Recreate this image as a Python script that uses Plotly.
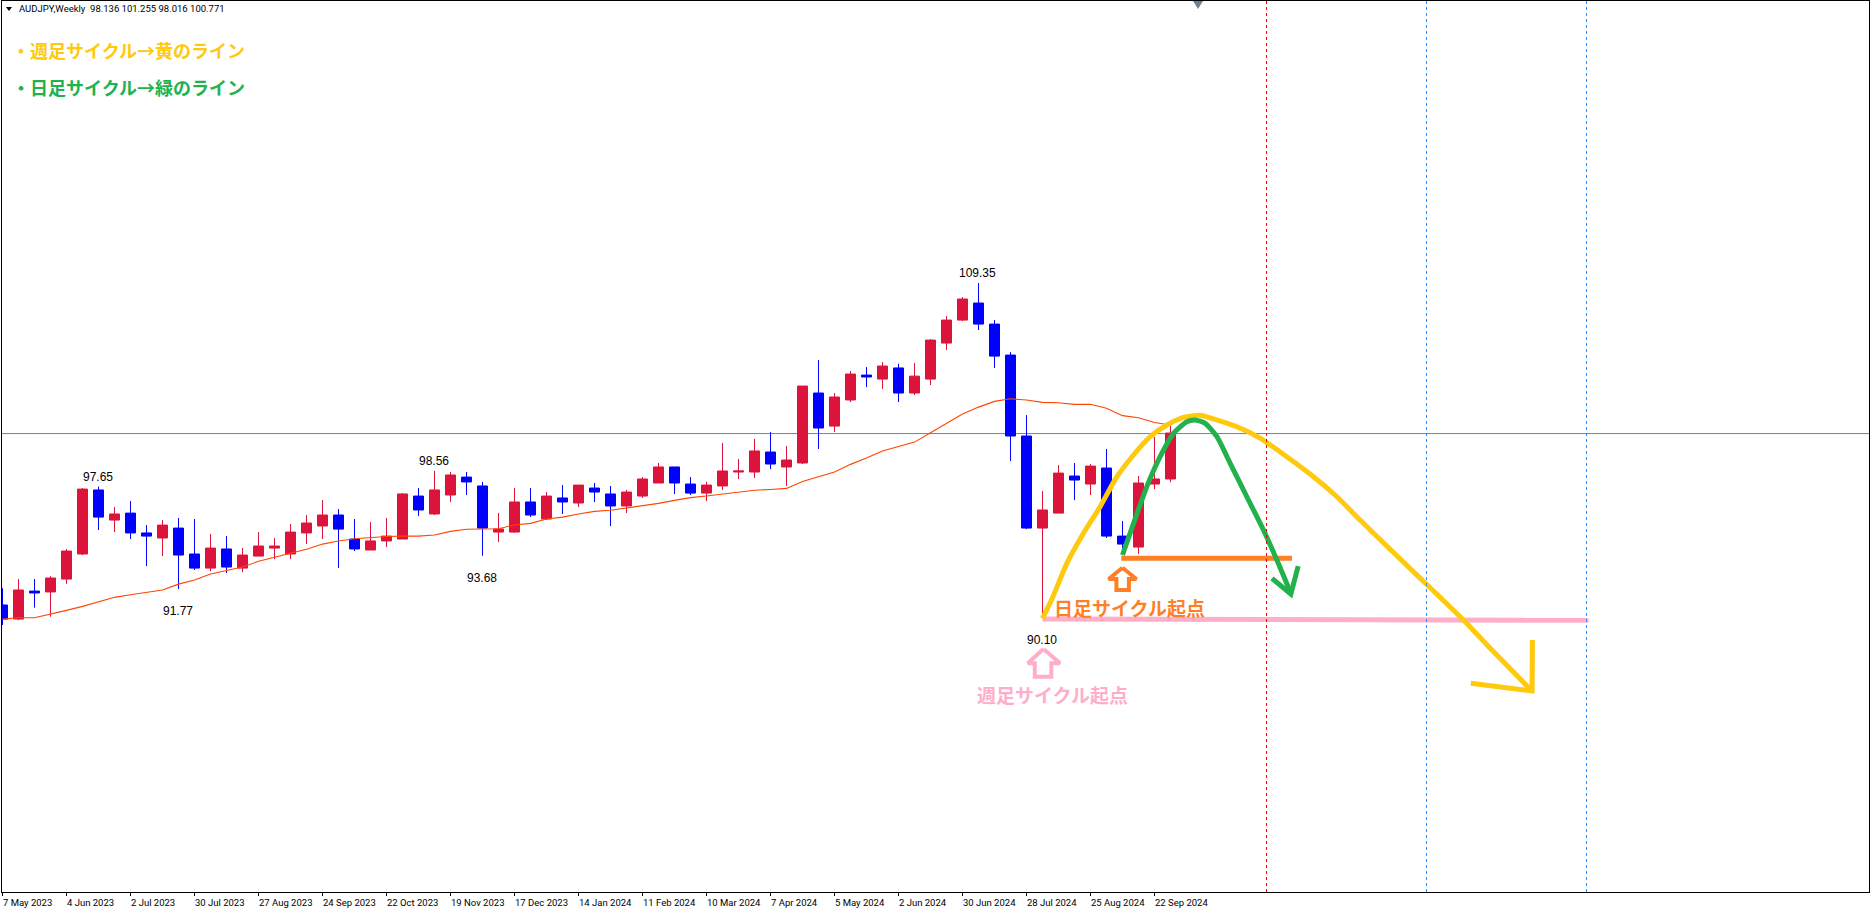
import plotly.graph_objects as go

# weekly AUDJPY candles, one row per bar
opens = [90.85, 90.04, 91.65, 91.60, 92.34, 93.78, 97.46, 95.73, 96.13, 94.99,
         94.70, 95.27, 93.78, 92.97, 94.07, 92.97, 93.66, 94.12, 93.78, 94.99,
         95.39, 96.02, 94.64, 94.01, 94.53, 94.64, 97.11, 96.08, 97.17, 98.20,
         97.69, 95.04, 95.04, 96.77, 95.79, 97.00, 96.71, 97.57, 97.23, 96.54,
         97.11, 97.86, 98.78, 97.80, 97.28, 97.69, 98.49, 98.49, 99.64, 98.78,
         99.01, 103.03, 101.13, 102.63, 104.06, 103.83, 104.47, 103.03, 103.83, 105.90,
         107.22, 108.20, 106.99, 105.21, 100.56, 95.27, 96.13, 98.26, 97.80, 98.72,
         94.81, 94.18, 97.80, 98.09]
highs = [91.81, 92.34, 92.34, 92.51, 94.07, 97.57, 97.65, 96.48, 96.82, 95.44,
         95.73, 95.85, 95.79, 94.93, 94.81, 94.12, 95.04, 94.70, 95.50, 96.02,
         96.88, 96.36, 95.79, 95.62, 95.85, 97.28, 97.57, 98.56, 98.49, 98.49,
         97.92, 96.14, 97.57, 97.57, 97.34, 97.74, 97.74, 97.86, 97.69, 97.46,
         98.20, 99.01, 98.78, 98.20, 97.92, 100.16, 99.24, 100.39, 100.79, 99.98,
         103.43, 104.93, 103.03, 104.29, 104.52, 104.81, 104.70, 104.75, 106.13, 107.45,
         108.54, 109.35, 107.22, 105.38, 101.76, 97.40, 98.89, 99.01, 98.95, 99.81,
         95.67, 98.26, 100.52, 101.13]
lows = [89.70, 89.98, 90.70, 90.18, 92.06, 93.72, 95.16, 95.04, 94.64, 93.09,
        93.66, 91.77, 92.86, 92.80, 92.69, 92.74, 93.66, 93.49, 93.49, 94.35,
        94.64, 92.97, 93.95, 94.01, 94.18, 94.64, 95.96, 96.02, 96.77, 97.17,
        93.68, 94.47, 94.99, 95.90, 95.73, 96.08, 96.48, 96.77, 95.39, 96.14,
        97.00, 97.86, 97.23, 97.17, 96.82, 97.46, 98.09, 98.15, 98.66, 97.69,
        98.95, 99.81, 100.79, 102.51, 103.37, 103.26, 102.51, 102.91, 103.49, 105.50,
        107.16, 106.65, 104.47, 99.12, 95.21, 90.10, 96.13, 96.88, 97.17, 94.70,
        94.01, 93.78, 97.51, 97.91]
closes = [90.04, 91.71, 91.54, 92.40, 93.95, 97.51, 95.90, 96.08, 94.99, 94.81,
          95.44, 93.72, 92.97, 94.12, 93.03, 93.72, 94.24, 94.24, 95.04, 95.56,
          96.02, 95.21, 94.07, 94.53, 94.81, 97.23, 96.31, 97.46, 98.32, 97.92,
          95.27, 95.22, 96.77, 96.02, 97.11, 96.77, 97.74, 97.34, 96.54, 97.34,
          98.09, 98.78, 97.86, 97.28, 97.74, 98.55, 98.55, 99.70, 98.95, 99.18,
          103.43, 101.02, 102.80, 104.12, 103.95, 104.58, 103.03, 104.00, 106.07, 107.22,
          108.43, 106.99, 105.15, 100.56, 95.27, 96.31, 98.43, 98.03, 98.83, 94.81,
          94.35, 97.86, 98.09, 100.73]
moving_avg = [90.04, 90.12, 90.12, 90.31, 90.54, 90.77, 91.04, 91.29, 91.44, 91.56,
              91.71, 92.05, 92.29, 92.63, 92.82, 93.03, 93.36, 93.59, 93.86, 94.05,
              94.35, 94.53, 94.66, 94.74, 94.79, 94.81, 94.81, 94.87, 95.08, 95.20,
              95.20, 95.23, 95.45, 95.54, 95.79, 95.90, 96.08, 96.23, 96.29, 96.42,
              96.54, 96.69, 96.86, 97.02, 97.11, 97.21, 97.34, 97.44, 97.49, 97.55,
              97.95, 98.20, 98.49, 98.93, 99.29, 99.70, 99.97, 100.21, 100.75, 101.29,
              101.82, 102.22, 102.55, 102.70, 102.63, 102.49, 102.47, 102.38, 102.38, 102.15,
              101.73, 101.61, 101.34, 101.19]

date_bars = [0, 4, 8, 12, 16, 20, 24, 28, 32, 36, 40, 44, 48, 52, 56, 60, 64, 68, 72]
date_labels = ["7 May 2023", "4 Jun 2023", "2 Jul 2023", "30 Jul 2023", "27 Aug 2023",
               "24 Sep 2023", "22 Oct 2023", "19 Nov 2023", "17 Dec 2023", "14 Jan 2024",
               "11 Feb 2024", "10 Mar 2024", "7 Apr 2024", "5 May 2024", "2 Jun 2024",
               "30 Jun 2024", "28 Jul 2024", "25 Aug 2024", "22 Sep 2024"]

high_low_bars = [6, 27, 61, 11, 30, 65]
high_low_prices = [97.65, 98.56, 109.35, 91.77, 93.68, 90.10]

bid_price = 100.70
red_cycle_bars = [79]
blue_cycle_bars = [89, 99]

# hand drawn lines on the screenshot, bar number / price
yellow_bars = [65.0, 65.59, 66.52, 67.56, 68.60, 69.65, 70.69, 71.73, 72.77, 73.81, 74.85, 75.67,
               77.15, 78.60, 80.27, 81.94, 83.40, 84.85, 86.0, 88.29, 91.31, 93.09, 95.59]
yellow_prices = [90.08, 91.19, 93.24, 94.97, 96.50, 98.22, 99.47, 100.52, 101.19, 101.63, 101.75, 101.54,
                 101.09, 100.44, 99.37, 98.22, 97.07, 95.73, 94.70, 92.67, 89.99, 88.26, 85.91]
yellow_head_bars = [91.77, 95.6, 95.62]
yellow_head_prices = [86.35, 85.91, 88.84]

green_bars = [70.0, 70.69, 71.52, 72.35, 73.19, 74.02, 74.54, 75.17, 75.90, 76.73, 77.77, 78.81, 79.65, 80.52]
green_prices = [93.72, 95.54, 97.65, 99.37, 100.71, 101.38, 101.48, 101.29, 100.52, 98.99, 97.07, 95.16, 93.43, 91.52]
green_head_bars = [79.34, 80.52, 80.98]
green_head_prices = [92.38, 91.48, 93.09]

orange_bars = [69.92, 80.59]
orange_prices = [93.53, 93.53]
pink_bars = [65.0, 82.04, 82.04, 99.12]
pink_prices = [90.04, 90.04, 89.97, 89.97]

orange_arrow_bars = [70.0, 70.87, 70.40, 70.40, 69.62, 69.62, 69.13, 70.0]
orange_arrow_prices = [92.99, 92.34, 92.34, 91.71, 91.71, 92.34, 92.34, 92.99]
pink_arrow_bars = [65.06, 66.10, 65.55, 65.55, 64.52, 64.52, 64.08, 65.06]
pink_arrow_prices = [88.32, 87.50, 87.50, 86.73, 86.73, 87.50, 87.50, 88.32]

RED = "#DC143C"
BLUE = "#0000FF"
YELLOW = "#FFC90E"
GREEN = "#22B14C"
ORANGE = "#FF7F27"
PINK = "#FFAEC9"
JP_FONT = "Noto Sans CJK JP"
UI_FONT = "Roboto"

WIDTH, HEIGHT = 1870, 910
LEFT, RIGHT, TOP, BOTTOM = 2, 1869, 1, 892


def paper_x(px):
    return (px - LEFT) / (RIGHT - LEFT)


def paper_y(px):
    return 1 - (px - TOP) / (BOTTOM - TOP)


def triangle_path(x0, x1, y0, y1):
    mid = (paper_x(x0) + paper_x(x1)) / 2
    return f"M{paper_x(x0)},{paper_y(y0)} L{paper_x(x1)},{paper_y(y0)} L{mid},{paper_y(y1)} Z"


bars = list(range(len(opens)))

fig = go.Figure()
fig.add_trace(go.Scatter(x=bars, y=moving_avg, mode="lines", line=dict(color="#FF4500", width=1.1), hoverinfo="skip"))
fig.add_trace(go.Candlestick(
    x=bars, open=opens, high=highs, low=lows, close=closes,
    increasing=dict(line=dict(color=RED, width=1), fillcolor=RED),
    decreasing=dict(line=dict(color=BLUE, width=1), fillcolor=BLUE),
    whiskerwidth=0,
))

# the hand drawn marks
for xs, ys, color, width in [
    (pink_bars, pink_prices, PINK, 5),
    (pink_arrow_bars, pink_arrow_prices, PINK, 4),
    (orange_bars, orange_prices, ORANGE, 5),
    (orange_arrow_bars, orange_arrow_prices, ORANGE, 4),
    (yellow_bars, yellow_prices, YELLOW, 5),
    (yellow_head_bars, yellow_head_prices, YELLOW, 5),
    (green_bars, green_prices, GREEN, 5),
    (green_head_bars, green_head_prices, GREEN, 5),
]:
    fig.add_trace(go.Scatter(x=xs, y=ys, mode="lines", hoverinfo="skip",
                             line=dict(color=color, width=width, shape="spline" if len(xs) > 8 else "linear", smoothing=0.6)))

fig.add_shape(type="line", xref="paper", x0=0, x1=1, y0=bid_price, y1=bid_price,
              line=dict(color="#778088", width=1), layer="below")
for b in red_cycle_bars:
    fig.add_shape(type="line", yref="paper", x0=b, x1=b, y0=0, y1=1, line=dict(color="#FF0000", width=1, dash="3px,3px"))
for b in blue_cycle_bars:
    fig.add_shape(type="line", yref="paper", x0=b, x1=b, y0=0, y1=1, line=dict(color="#1E90FF", width=1, dash="3px,3px"))

# chart shift marker on the top edge, and the little menu arrow in the header
fig.add_shape(type="path", xref="paper", yref="paper", path=triangle_path(1193, 1203, 1, 9),
              fillcolor="#708090", line=dict(width=0))
fig.add_shape(type="path", xref="paper", yref="paper", path=triangle_path(6, 12, 7, 11),
              fillcolor="#000000", line=dict(width=0))

fig.add_annotation(xref="paper", yref="paper", x=paper_x(17), y=paper_y(9), xanchor="left", yanchor="middle", showarrow=False,
                   text="AUDJPY,Weekly  98.136 101.255 98.016 100.771",
                   font=dict(family=UI_FONT, size=9.5, color="#000000"))

fig.add_annotation(xref="paper", yref="paper", x=paper_x(10), y=paper_y(50), xanchor="left", yanchor="middle", showarrow=False,
                   text="<b>・週足サイクル→黄のライン</b>", font=dict(family=JP_FONT, size=18, color=YELLOW))
fig.add_annotation(xref="paper", yref="paper", x=paper_x(10), y=paper_y(87), xanchor="left", yanchor="middle", showarrow=False,
                   text="<b>・日足サイクル→緑のライン</b>", font=dict(family=JP_FONT, size=18, color=GREEN))
fig.add_annotation(xref="paper", yref="paper", x=paper_x(1129), y=paper_y(607), xanchor="center", yanchor="middle", showarrow=False,
                   text="<b>日足サイクル起点</b>", font=dict(family=JP_FONT, size=19, color=ORANGE))
fig.add_annotation(xref="paper", yref="paper", x=paper_x(1052), y=paper_y(694), xanchor="center", yanchor="middle", showarrow=False,
                   text="<b>週足サイクル起点</b>", font=dict(family=JP_FONT, size=19, color=PINK))

# swing high / low labels sit off the wick tip
for b, price in zip(high_low_bars, high_low_prices):
    above = price == highs[b]
    fig.add_annotation(x=b, y=price, text=f"{price:.2f}", showarrow=False, xshift=-1, yshift=10 if above else -22,
                       font=dict(family="Liberation Sans", size=12, color="#000000"))

for b, label in zip(date_bars, date_labels):
    fig.add_annotation(x=b, xref="x", yref="paper", y=0, yshift=-3, xshift=-2, xanchor="left", yanchor="top", showarrow=False,
                       text=label, font=dict(family=UI_FONT, size=9.5, color="#000000"))

fig.update_xaxes(range=[-0.03125, 116.656], showgrid=False, zeroline=False, rangeslider_visible=False,
                 tickmode="array", tickvals=date_bars, ticktext=[""] * len(date_bars),
                 ticks="outside", ticklen=3, tickcolor="#000000", tickwidth=1,
                 showline=True, linecolor="#000000", linewidth=1, mirror=True, automargin=False)
fig.update_yaxes(range=[74.36, 125.554], showgrid=False, zeroline=False, showticklabels=False, ticks="",
                 showline=True, linecolor="#000000", linewidth=1, mirror=True, automargin=False)
fig.update_layout(width=WIDTH, height=HEIGHT, showlegend=False, hovermode=False,
                  boxgap=0.375, boxgroupgap=0,
                  paper_bgcolor="#FFFFFF", plot_bgcolor="#FFFFFF",
                  margin=dict(l=LEFT, r=WIDTH - RIGHT, t=TOP, b=HEIGHT - BOTTOM, autoexpand=False))

fig.write_html("out.html", config={"displayModeBar": False},
               post_script="document.body.style.margin='0';document.body.style.overflow='hidden';")
